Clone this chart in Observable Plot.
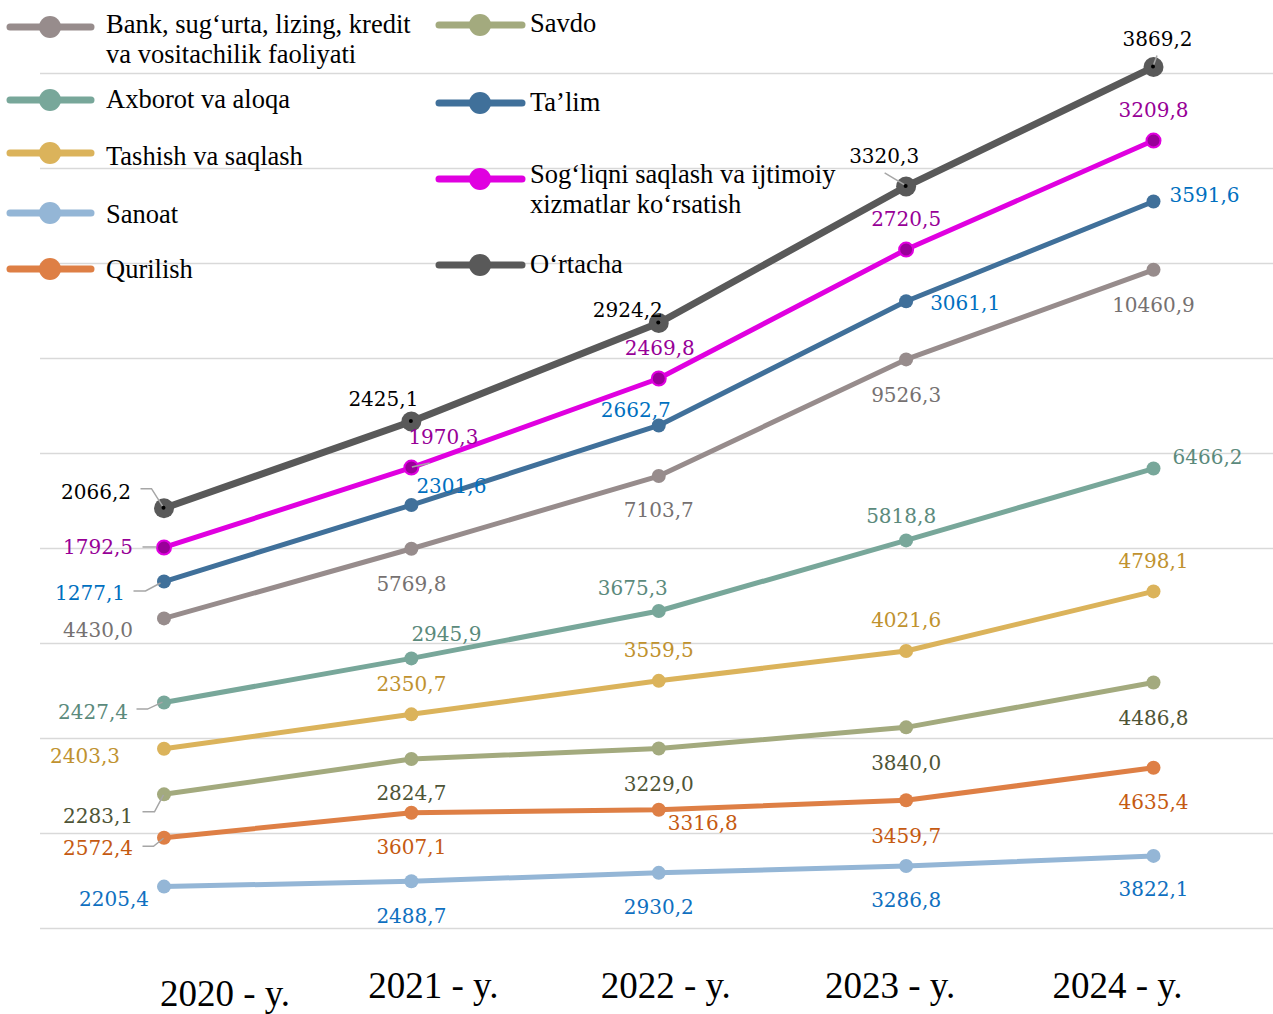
<!DOCTYPE html>
<html>
<head>
<meta charset="utf-8">
<script src="https://cdn.jsdelivr.net/npm/d3@7"></script>
<script src="https://cdn.jsdelivr.net/npm/@observablehq/plot@0.6"></script>
<style>
  body { margin: 0; background: #ffffff; }
  #chart { position: relative; width: 1273px; height: 1014px; }
  #chart svg g.datalabel text { font-family: "DejaVu Serif", serif !important; font-size: 20px !important; }
  #chart svg g.yearlabel text { font-family: "Liberation Serif", serif !important; font-size: 37px !important; }
  #chart svg g.legend text { font-family: "Liberation Serif", serif !important; font-size: 26.5px !important; text-anchor: start; }
</style>
</head>
<body>
<div id="chart"></div>
<script>
// ---------- DATA ----------
const years = [2020, 2021, 2022, 2023, 2024];
const yearLabels = ["2020 - y.", "2021 - y.", "2022 - y.", "2023 - y.", "2024 - y."];
const gridTicks = [0, 5000, 10000, 15000, 20000, 25000, 30000, 35000, 40000, 45000];

// stacking order, bottom to top
const seriesNames = [
  "Sanoat",
  "Qurilish",
  "Savdo",
  "Tashish va saqlash",
  "Axborot va aloqa",
  "Bank, sug‘urta, lizing, kredit va vositachilik faoliyati",
  "Ta’lim",
  "Sog‘liqni saqlash va ijtimoiy xizmatlar ko‘rsatish",
  "O‘rtacha"
];

const sanoat   = [2205.4, 2488.7, 2930.2, 3286.8, 3822.1];
const qurilish = [2572.4, 3607.1, 3316.8, 3459.7, 4635.4];
const savdo    = [2283.1, 2824.7, 3229.0, 3840.0, 4486.8];
const tashish  = [2403.3, 2350.7, 3559.5, 4021.6, 4798.1];
const axborot  = [2427.4, 2945.9, 3675.3, 5818.8, 6466.2];
const bank     = [4430.0, 5769.8, 7103.7, 9526.3, 10460.9];
// 2020 height (~1940); its printed label reads "1277,1"
const talim    = [1940.0, 2301.6, 2662.7, 3061.1, 3591.6];
const sogliq   = [1792.5, 1970.3, 2469.8, 2720.5, 3209.8];
const ortacha  = [2066.2, 2425.1, 2924.2, 3320.3, 3869.2];

// label printed in the reference where it differs from the drawn height
const printedLabels = { "6-0": "1277,1" };

// ---------- STYLE ----------
const valueArrays = [sanoat, qurilish, savdo, tashish, axborot, bank, talim, sogliq, ortacha];
const lineColors  = ["#94b6d6", "#de7f45", "#a3aa7e", "#dbb35b", "#78a79a", "#978c8c", "#40709a", "#e000e0", "#595959"];
const labelColors = ["#0f70c0", "#c55a11", "#4e5436", "#c0922f", "#5b8a7c", "#767171", "#0070c0", "#970097", "#000000"];
const labelOffsets = [
  [[-50, 12], [0, 34], [0, 34], [0, 34], [0, 33]],
  [[-66, 10], [0, 34], [44, 13], [0, 35], [0, 34]],
  [[-66, 21], [0, 34], [0, 35], [0, 35], [0, 35]],
  [[-79, 7], [0, -31], [0, -31], [0, -31], [0, -31]],
  [[-71, 9], [35, -25], [-26, -23], [-5, -25], [54, -12]],
  [[-66, 11], [0, 35], [0, 34], [0, 35], [0, 35]],
  [[-74, 11], [40, -19], [-23, -16], [59, 1], [51, -7]],
  [[-66, -1], [32, -31], [1, -31], [0, -31], [0, -31]],
  [[-68, -17], [-28, -23], [-31, -13], [-22, -31], [4, -28]]
];
// leader lines: [series index, year index, path offsets relative to the point]
const leaders = [
  [8, 0, [[-23, -19], [-12, -19], [0, 0]]],
  [7, 0, [[-21, 0], [-7, 0]]],
  [6, 0, [[-30, 10], [-18, 10], [-3, 2]]],
  [4, 0, [[-27, 7], [-16, 7], [-1, 0]]],
  [2, 0, [[-21, 18], [-9, 18], [0, 1]]],
  [1, 0, [[-21, 9], [-10, 9], [0, 1]]],
  [7, 1, [[1, 0], [19, -4]]],
  [8, 3, [[-21, -13], [-1, -1]]],
  [8, 4, [[4, -11], [0, 0]]]
];
const yearLabelOffsets = [[61, -9], [22, -17], [7, -17], [-16, -17], [-36, -17]];

const fmt = v => d3.format(".1f")(v).replace(".", ",");

// stacked table
const rows = [];
years.forEach((yr, j) => {
  let cum = 0;
  seriesNames.forEach((s, i) => {
    const v = valueArrays[i][j];
    cum += v;
    rows.push({series: s, si: i, year: yr, yi: j, value: v, top: cum,
               label: printedLabels[i + "-" + j] ?? fmt(v)});
  });
});
const rowOf = (si, yi) => rows.find(r => r.si === si && r.yi === yi);

const marks = [
  Plot.ruleY(gridTicks, {stroke: "#d9d9d9", strokeWidth: 1.5})
];

seriesNames.forEach((s, i) => {
  const d = rows.filter(r => r.si === i);
  const isAvg = i === 8;
  const isHealth = i === 7;
  marks.push(Plot.line(d, {x: "year", y: "top", stroke: lineColors[i], strokeWidth: isAvg ? 7 : 5,
                           strokeLinejoin: "round", strokeLinecap: "round"}));
  if (isHealth) {
    marks.push(Plot.dot(d, {x: "year", y: "top", r: 7, fill: "#990099", stroke: "#e000e0", strokeWidth: 2}));
  } else if (isAvg) {
    marks.push(Plot.dot(d, {x: "year", y: "top", r: 10, fill: lineColors[i]}));
  } else {
    marks.push(Plot.dot(d, {x: "year", y: "top", r: 7, fill: lineColors[i]}));
  }
});

// data labels
rows.forEach(r => {
  const [dx, dy] = labelOffsets[r.si][r.yi];
  marks.push(Plot.text([r], {x: "year", y: "top", text: "label", dx, dy: dy + 1, className: "datalabel",
    fill: labelColors[r.si], fontSize: 20, fontFamily: "DejaVu Serif", textAnchor: "middle"}));
});

// year labels
years.forEach((yr, j) => {
  const [dx, dy] = yearLabelOffsets[j];
  marks.push(Plot.text([yr], {x: d => d, frameAnchor: "bottom", lineAnchor: "bottom", text: () => yearLabels[j],
    dx, dy, className: "yearlabel", fill: "#000000", fontSize: 37, fontFamily: "Liberation Serif", textAnchor: "middle"}));
});

const chart = Plot.plot({
  width: 1273,
  height: 1014,
  marginLeft: 40,
  marginRight: 0,
  marginTop: 0,
  marginBottom: 0,
  style: {background: "#ffffff", overflow: "visible"},
  x: {type: "linear", domain: [2020, 2024], range: [163.5, 1153], axis: null},
  y: {domain: [0, 45000], range: [928, 73], axis: null},
  marks
});
document.getElementById("chart").appendChild(chart);

d3.select(chart).selectAll("g[font-size='20']").classed("datalabel", true);
d3.select(chart).selectAll("g[font-size='37']").classed("yearlabel", true);

// leader lines + centre pips of the average markers, positioned via Plot's scales
const sx = chart.scale("x"), sy = chart.scale("y");
const lead = d3.select(chart).append("g").attr("fill", "none").attr("stroke", "#a6a6a6").attr("stroke-width", 1.5);
leaders.forEach(([si, yi, pts]) => {
  const r = rowOf(si, yi);
  const px = sx.apply(r.year), py = sy.apply(r.top);
  lead.append("path").attr("d", d3.line()(pts.map(([a, b]) => [px + a, py + b])));
});
const pips = d3.select(chart).append("g").attr("fill", "#000");
rows.filter(r => r.si === 8).forEach(r => {
  pips.append("circle").attr("cx", sx.apply(r.year)).attr("cy", sy.apply(r.top)).attr("r", 2);
});

// ---------- LEGEND ----------
const legendLeft = [5, 4, 3, 0, 1];
const legendRight = [2, 6, 7, 8];
const legendLines = {
  5: ["Bank, sug‘urta, lizing, kredit", "va vositachilik faoliyati"],
  7: ["Sog‘liqni saqlash va ijtimoiy", "xizmatlar ko‘rsatish"]
};
const leftY = [27, 100, 153, 213, 269];
const leftBase = [[33, 63], [108], [165], [223], [278]];
const rightY = [25, 103, 179, 265];
const rightBase = [[32], [111], [183, 213], [273]];

const lg = d3.select(chart).append("g").attr("class", "legend")
  .attr("font-family", "Liberation Serif").attr("font-size", 26.5)
  .attr("text-anchor", "start").attr("fill", "#000");
function legendItem(si, x0, x1, cx, tx, cy, bases) {
  const c = lineColors[si];
  lg.append("line").attr("x1", x0).attr("x2", x1).attr("y1", cy).attr("y2", cy)
    .attr("stroke", c).attr("stroke-width", 7).attr("stroke-linecap", "round");
  lg.append("circle").attr("cx", cx).attr("cy", cy).attr("r", 11).attr("fill", c);
  const lines = legendLines[si] || [seriesNames[si]];
  lines.forEach((t, k) => {
    lg.append("text").attr("x", tx).attr("y", bases[k]).attr("text-anchor", "start").text(t);
  });
}
legendLeft.forEach((si, k) => legendItem(si, 10, 91, 50, 106, leftY[k], leftBase[k]));
legendRight.forEach((si, k) => legendItem(si, 439, 522, 480, 530, rightY[k], rightBase[k]));
</script>
</body>
</html>
